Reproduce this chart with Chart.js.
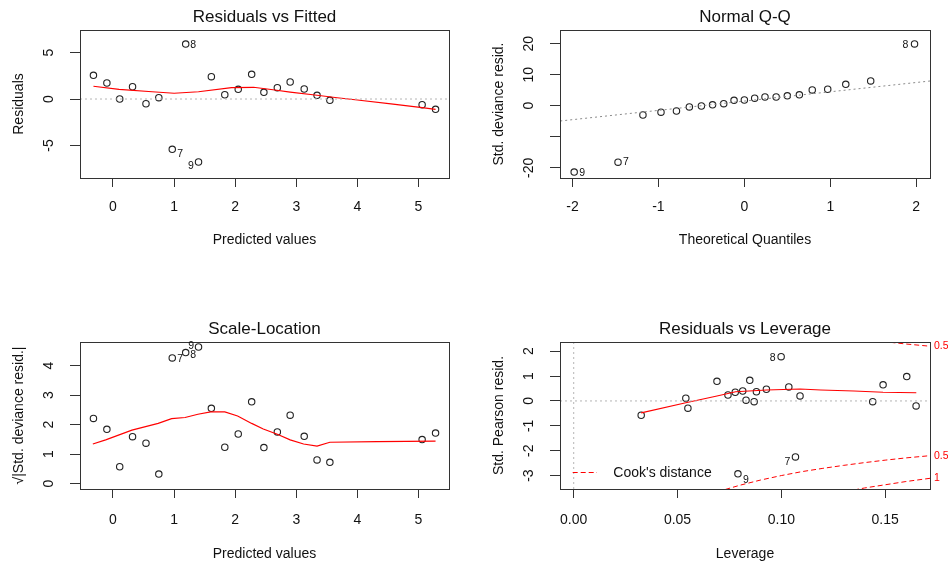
<!DOCTYPE html>
<html><head><meta charset="utf-8">
<script src="https://cdn.jsdelivr.net/npm/chart.js@4/dist/chart.umd.min.js"></script>
<style>
html,body{margin:0;padding:0;background:#fff;}
#wrap{position:relative;width:948px;height:566px;overflow:hidden;background:#fff;}
canvas{position:absolute;}
</style></head><body>
<div id="wrap">
<canvas id="c1" width="474" height="283" style="left:0;top:0;width:474px;height:283px"></canvas>
<canvas id="c2" width="474" height="283" style="left:474px;top:0;width:474px;height:283px"></canvas>
<canvas id="c3" width="474" height="283" style="left:0;top:283px;width:474px;height:283px"></canvas>
<canvas id="c4" width="474" height="283" style="left:474px;top:283px;width:474px;height:283px"></canvas>
</div>
<script>
// ---------------- DATA ----------------
// Residuals vs Fitted
const fittedValues   = [-0.32,-0.10,0.11,0.32,0.54,0.75,0.97,1.19,1.40,1.61,1.83,2.05,2.27,2.47,2.69,2.90,3.13,3.34,3.55,5.06,5.28];
const residualValues = [2.55,1.72,0.00,1.32,-0.51,0.14,-5.41,5.91,-6.77,2.40,0.46,1.04,2.66,0.72,1.22,1.83,1.08,0.40,-0.14,-0.61,-1.11];
const residLabels    = ['','','','','','','7','8','9','','','','','','','','','','','',''];
const rvfSmoothX = [-0.32,0.10,0.64,1.00,1.40,1.94,2.30,2.65,2.90,3.34,3.67,4.00,4.55,5.06,5.28];
const rvfSmoothY = [1.37,1.04,0.78,0.62,0.78,1.22,1.26,0.97,0.74,0.40,0.14,-0.10,-0.52,-0.92,-1.12];
const rvfTicksX = [0,1,2,3,4,5];
const rvfTickLabelsX = ['0','1','2','3','4','5'];
const rvfTicksY = [5,0,-5];
const rvfTickLabelsY = ['5','0','-5'];

// Normal Q-Q
const qqTheoretical = [-1.98,-1.47,-1.18,-0.97,-0.79,-0.64,-0.50,-0.37,-0.24,-0.12,0.00,0.12,0.24,0.37,0.50,0.64,0.79,0.97,1.18,1.47,1.98];
const qqStdDevResid = [-21.4,-18.2,-3.0,-2.1,-1.7,-0.4,-0.1,0.3,0.65,1.74,1.84,2.4,2.8,2.8,3.2,3.5,5.1,5.3,6.9,8.0,19.9];
const qqLabels      = ['9','7','','','','','','','','','','','','','','','','','','','8'];
const qqLineX = [-2.2,2.2];
const qqLineY = [-5.10,8.08];
const qqTicksX = [-2,-1,0,1,2];
const qqTickLabelsX = ['-2','-1','0','1','2'];
const qqTicksY = [20,10,0,-10,-20];
const qqTickLabelsY = ['20','10','0','','-20'];

// Scale-Location
const slSqrtAbsResid = [2.21,1.84,0.57,1.59,1.37,0.32,4.26,4.44,4.63,2.55,1.23,1.68,2.77,1.22,1.75,2.32,1.60,0.80,0.72,1.49,1.71];
const slLabels       = ['','','','','','','7','8','9','','','','','','','','','','','',''];
const slSmoothX = [-0.33,-0.12,0.31,0.74,0.96,1.18,1.39,1.60,1.83,2.04,2.27,2.46,2.69,2.90,3.12,3.34,3.55,4.32,5.28];
const slSmoothY = [1.34,1.48,1.81,2.04,2.20,2.24,2.35,2.43,2.43,2.29,2.04,1.85,1.67,1.48,1.34,1.27,1.40,1.42,1.44];
const slTicksY = [0,1,2,3,4];
const slTickLabelsY = ['0','1','2','3','4'];

// Residuals vs Leverage
const leverage        = [0.0325,0.054,0.055,0.069,0.0743,0.0778,0.0791,0.0814,0.083,0.0848,0.0869,0.088,0.0928,0.0999,0.1036,0.1068,0.109,0.144,0.149,0.1604,0.1649];
const stdPearsonResid = [-0.575,0.11,-0.29,0.79,0.24,0.35,-2.93,0.40,0.03,0.83,-0.03,0.37,0.47,1.78,0.56,-2.25,0.20,-0.03,0.65,0.98,-0.20];
const levLabels       = ['','','','','','','9','','','','','','','8','','7','','','','',''];
const rvlSmoothX = [0.0325,0.054,0.069,0.078,0.093,0.109,0.119,0.135,0.149,0.165];
const rvlSmoothY = [-0.48,-0.07,0.20,0.37,0.44,0.48,0.44,0.40,0.35,0.33];
const cook05X      = [0.073,0.08,0.09,0.10,0.11,0.12,0.13,0.14,0.15,0.16,0.1716];
const cook05Upper  = [3.56,3.39,3.18,3.00,2.84,2.71,2.59,2.48,2.38,2.29,2.20];
const cook05Lower  = [-3.56,-3.39,-3.18,-3.00,-2.84,-2.71,-2.59,-2.48,-2.38,-2.29,-2.20];
const cook1X       = [0.135,0.14,0.15,0.16,0.1716];
const cook1Lower   = [-3.58,-3.50,-3.37,-3.24,-3.11];
const cookLevelLabels = ['0.5','0.5','1'];
const rvlTicksX = [0,0.05,0.10,0.15];
const rvlTickLabelsX = ['0.00','0.05','0.10','0.15'];
const rvlTicksY = [2,1,0,-1,-2,-3];
const rvlTickLabelsY = ['2','1','0','-1','-2','-3'];

// ---------------- RENDER ----------------
const FONT = '"Liberation Sans", Arial, Helvetica, sans-serif';
const TXT = '#111';
const W = 474, H = 283;

function pts(xs, ys){ return xs.map((x,i)=>({x:x, y:ys[i]})); }
function pointsDs(data){
  return {data, showLine:false, pointStyle:'circle', pointRadius:3.2, pointHoverRadius:3.2,
    pointBorderWidth:1.1, pointBorderColor:'#222', pointBackgroundColor:'rgba(0,0,0,0)'};
}
function lineDs(data, color, dash, width){
  return {data, showLine:true, pointRadius:0, pointHoverRadius:0, borderColor:color,
    borderWidth:width||1, borderDash:dash||[], tension:0, fill:false};
}

function panel(id, cfg){
  const box = cfg.box;
  const deco = {
    id:'deco_'+id,
    afterDraw(chart){
      const ctx = chart.ctx, a = chart.chartArea, xs = chart.scales.x, ys = chart.scales.y;
      ctx.save();
      ctx.strokeStyle = '#333'; ctx.lineWidth = 1; ctx.setLineDash([]);
      const L = Math.round(a.left), T = Math.round(a.top), R = Math.round(a.right), B = Math.round(a.bottom);
      ctx.strokeRect(L+0.5, T+0.5, R-L, B-T);
      ctx.fillStyle = TXT; ctx.textAlign = 'center'; ctx.textBaseline = 'middle';
      ctx.font = '17px ' + FONT;
      ctx.fillText(cfg.title, (a.left+a.right)/2, a.top - 12.8);
      ctx.font = '14px ' + FONT;
      cfg.yTicks.forEach((v,i)=>{
        const lab = cfg.yTickLabels[i]; if(!lab) return;
        ctx.save(); ctx.translate(a.left - 30.5, ys.getPixelForValue(v)); ctx.rotate(-Math.PI/2);
        ctx.fillText(lab, 0, 0); ctx.restore();
      });
      ctx.font = '10.5px ' + FONT;
      const meta = chart.getDatasetMeta(cfg.pointDs);
      cfg.ptLabels.forEach((lab,i)=>{
        if(!lab) return;
        const el = meta.data[i]; const off = cfg.labelOffsets[lab];
        ctx.fillText(lab, el.x + off[0], el.y + off[1]);
      });
      if (cfg.extra) cfg.extra(chart, ctx, a, xs, ys);
      ctx.restore();
    }
  };
  return new Chart(document.getElementById(id), {
    type:'scatter',
    data:{datasets:cfg.datasets},
    options:{
      responsive:false, animation:false, devicePixelRatio:1,
      layout:{padding:{left:0, top:box.t, right:W-box.r, bottom:0}},
      plugins:{legend:{display:false}, tooltip:{enabled:false}, title:{display:false}},
      events:[],
      scales:{
        x:{type:'linear', min:cfg.xMin, max:cfg.xMax,
          afterBuildTicks:s=>{ s.ticks = cfg.xTicks.map(v=>({value:v})); },
          afterFit:s=>{ s.height = H - box.b; },
          grid:{drawOnChartArea:false, drawTicks:true, tickLength:9, color:'#333', lineWidth:1},
          border:{display:false},
          ticks:{autoSkip:false, maxRotation:0, minRotation:0, padding:cfg.xTickPad, color:TXT,
            font:{family:FONT, size:14}, callback:(v,i)=>cfg.xTickLabels[i]},
          title:{display:true, text:cfg.xTitle, color:TXT, font:{family:FONT, size:14},
            padding:{top:0, bottom:cfg.xTitlePad}}
        },
        y:{type:'linear', min:cfg.yMin, max:cfg.yMax,
          afterBuildTicks:s=>{ s.ticks = cfg.yTicks.map(v=>({value:v})); },
          afterFit:s=>{ s.width = box.l; },
          grid:{drawOnChartArea:false, drawTicks:true, tickLength:10, color:'#333', lineWidth:1},
          border:{display:false},
          ticks:{display:false},
          title:{display:true, text:cfg.yTitle, color:TXT, font:{family:FONT, size:14},
            padding:{top:cfg.yTitlePad, bottom:0}}
        }
      }
    },
    plugins:[deco]
  });
}

// Panel 1: Residuals vs Fitted
panel('c1', {
  box:{l:80, r:449, t:30, b:178}, xMin:-0.54, xMax:5.50, yMin:-8.49, yMax:7.42,
  xTicks:rvfTicksX, xTickLabels:rvfTickLabelsX, yTicks:rvfTicksY, yTickLabels:rvfTickLabelsY,
  title:'Residuals vs Fitted', xTitle:'Predicted values', yTitle:'Residuals', xTitlePad:34, yTitlePad:10.6, xTickPad:12,
  datasets:[
    lineDs([{x:-0.54,y:0},{x:5.50,y:0}], '#b5b5b5', [2,3]),
    lineDs(pts(rvfSmoothX, rvfSmoothY), '#ff0000', [], 1.15),
    pointsDs(pts(fittedValues, residualValues))
  ],
  pointDs:2, ptLabels:residLabels, labelOffsets:{'7':[8,5], '8':[7.5,1], '9':[-7.7,4]}
});

// Panel 2: Normal Q-Q
panel('c2', {
  box:{l:86, r:456, t:30, b:178}, xMin:-2.145, xMax:2.16, yMin:-23.3, yMax:24.4,
  xTicks:qqTicksX, xTickLabels:qqTickLabelsX, yTicks:qqTicksY, yTickLabels:qqTickLabelsY,
  title:'Normal Q-Q', xTitle:'Theoretical Quantiles', yTitle:'Std. deviance resid.', xTitlePad:34, yTitlePad:16.6, xTickPad:12,
  datasets:[
    lineDs(pts(qqLineX, qqLineY), '#8a8a8a', [2,3]),
    pointsDs(pts(qqTheoretical, qqStdDevResid))
  ],
  pointDs:1, ptLabels:qqLabels, labelOffsets:{'9':[8,0.7], '7':[8,0.3], '8':[-9,0.7]}
});

// Panel 3: Scale-Location
panel('c3', {
  box:{l:80, r:449, t:59, b:206}, xMin:-0.54, xMax:5.50, yMin:-0.185, yMax:4.80,
  xTicks:rvfTicksX, xTickLabels:rvfTickLabelsX, yTicks:slTicksY, yTickLabels:slTickLabelsY,
  title:'Scale-Location', xTitle:'Predicted values', yTitle:'\u221A|Std. deviance resid.|', xTitlePad:3, yTitlePad:10.6, xTickPad:14,
  datasets:[
    lineDs(pts(slSmoothX, slSmoothY), '#ff0000', [], 1.15),
    pointsDs(pts(fittedValues, slSqrtAbsResid))
  ],
  pointDs:1, ptLabels:slLabels, labelOffsets:{'7':[8,1.3], '8':[7.4,2.7], '9':[-7.3,-0.7]}
});

// Panel 4: Residuals vs Leverage
panel('c4', {
  box:{l:86, r:456, t:59, b:206}, xMin:-0.0066, xMax:0.1716, yMin:-3.54, yMax:2.37,
  xTicks:rvlTicksX, xTickLabels:rvlTickLabelsX, yTicks:rvlTicksY, yTickLabels:rvlTickLabelsY,
  title:'Residuals vs Leverage', xTitle:'Leverage', yTitle:'Std. Pearson resid.', xTitlePad:3, yTitlePad:16.6, xTickPad:14,
  datasets:[
    lineDs([{x:0,y:-3.54},{x:0,y:2.37}], '#b5b5b5', [2,3]),
    lineDs([{x:-0.0066,y:0},{x:0.1716,y:0}], '#b5b5b5', [2,3]),
    lineDs(pts(rvlSmoothX, rvlSmoothY), '#ff0000', [], 1.15),
    lineDs(pts(cook05X, cook05Upper), '#ff0000', [5,3]),
    lineDs(pts(cook05X, cook05Lower), '#ff0000', [5,3]),
    lineDs(pts(cook1X, cook1Lower), '#ff0000', [5,3]),
    pointsDs(pts(leverage, stdPearsonResid))
  ],
  pointDs:6, ptLabels:levLabels, labelOffsets:{'9':[8,6], '8':[-8.4,1], '7':[-8,4.7]},
  extra:(chart, ctx, a, xs, ys)=>{
    // Cook's distance level labels in right margin
    ctx.fillStyle = '#ff0000'; ctx.textAlign = 'left'; ctx.font = '10.5px ' + FONT;
    const ends = [cook05Upper[cook05Upper.length-1], cook05Lower[cook05Lower.length-1], cook1Lower[cook1Lower.length-1]];
    ends.forEach((v,i)=>ctx.fillText(cookLevelLabels[i], a.right + 4, ys.getPixelForValue(v)));
    // legend
    const ly = Math.round(a.bottom - 17.5) + 0.5;
    ctx.strokeStyle = '#ff0000'; ctx.lineWidth = 1; ctx.setLineDash([5,3]);
    ctx.beginPath(); ctx.moveTo(a.left + 12.7, ly); ctx.lineTo(a.left + 37, ly); ctx.stroke();
    ctx.setLineDash([]);
    ctx.fillStyle = TXT; ctx.font = '14px ' + FONT; ctx.textAlign = 'left';
    ctx.fillText("Cook's distance", a.left + 53.3, a.bottom - 16);
  }
});
</script>
</body></html>
